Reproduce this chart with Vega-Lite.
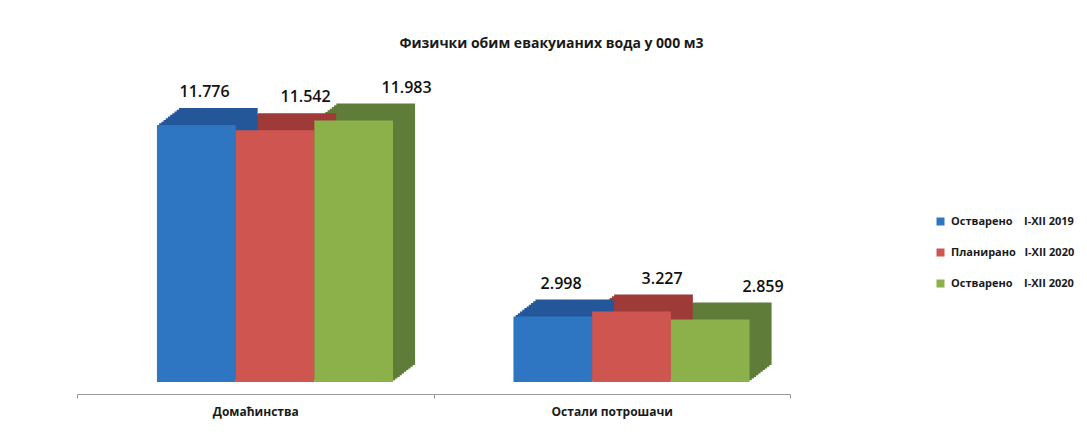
{
  "$schema": "https://vega.github.io/schema/vega-lite/v6.json",
  "width": 713,
  "height": 312,
  "autosize": {"type": "none"},
  "padding": {"left": 77, "top": 70, "right": 297, "bottom": 53},
  "background": "white",
  "title": {
    "text": "Физички обим евакуианих вода у 000 м3",
    "font": "Open Sans",
    "fontSize": 14,
    "fontWeight": "bold",
    "color": "#1a1a1a",
    "anchor": "middle",
    "dx": 118,
    "offset": 19
  },
  "data": {
    "values": [
      {"category": "Домаћинства", "series": "Остварено\u00a0\u00a0\u00a0\u00a0I-XII 2019", "value": 11776},
      {"category": "Домаћинства", "series": "Планирано\u00a0\u00a0\u00a0I-XII 2020", "value": 11542},
      {"category": "Домаћинства", "series": "Остварено\u00a0\u00a0\u00a0\u00a0I-XII 2020", "value": 11983},
      {"category": "Остали потрошачи", "series": "Остварено\u00a0\u00a0\u00a0\u00a0I-XII 2019", "value": 2998},
      {"category": "Остали потрошачи", "series": "Планирано\u00a0\u00a0\u00a0I-XII 2020", "value": 3227},
      {"category": "Остали потрошачи", "series": "Остварено\u00a0\u00a0\u00a0\u00a0I-XII 2020", "value": 2859}
    ]
  },
  "encoding": {
    "x": {
      "field": "category",
      "type": "nominal",
      "sort": ["Домаћинства", "Остали потрошачи"],
      "scale": {"paddingInner": 0, "paddingOuter": 0},
      "axis": {
        "title": null,
        "labelAngle": 0,
        "labelFont": "Open Sans",
        "labelFontSize": 12,
        "labelFontWeight": "bold",
        "labelColor": "#1a1a1a",
        "domainColor": "#9a9a9a",
        "tickColor": "#9a9a9a",
        "tickBand": "extent",
        "tickSize": 4,
        "offset": 12,
        "labelPadding": 8
      }
    },
    "y": {
      "field": "value",
      "type": "quantitative",
      "scale": {"domain": [0, 14300]},
      "axis": null
    }
  },
  "layer": [
    {"mark": {"type": "bar", "yOffset": -1.7}, "encoding": {
      "xOffset": {"field": "series", "type": "nominal", "sort": ["Остварено\u00a0\u00a0\u00a0\u00a0I-XII 2019", "Планирано\u00a0\u00a0\u00a0I-XII 2020", "Остварено\u00a0\u00a0\u00a0\u00a0I-XII 2020"], "scale": {"paddingInner": 0, "paddingOuter": 0.765, "align": 0.682}},
      "color": {"field": "series", "type": "nominal", "sort": ["Остварено\u00a0\u00a0\u00a0\u00a0I-XII 2019", "Планирано\u00a0\u00a0\u00a0I-XII 2020", "Остварено\u00a0\u00a0\u00a0\u00a0I-XII 2020"], "scale": {"range": ["#24579a", "#9e3a37", "#5f7d38"]}, "legend": null}}},
    {"mark": {"type": "bar", "yOffset": -3.4}, "encoding": {
      "xOffset": {"field": "series", "type": "nominal", "sort": ["Остварено\u00a0\u00a0\u00a0\u00a0I-XII 2019", "Планирано\u00a0\u00a0\u00a0I-XII 2020", "Остварено\u00a0\u00a0\u00a0\u00a0I-XII 2020"], "scale": {"paddingInner": 0, "paddingOuter": 0.765, "align": 0.701}},
      "color": {"field": "series", "type": "nominal", "sort": ["Остварено\u00a0\u00a0\u00a0\u00a0I-XII 2019", "Планирано\u00a0\u00a0\u00a0I-XII 2020", "Остварено\u00a0\u00a0\u00a0\u00a0I-XII 2020"], "scale": {"range": ["#24579a", "#9e3a37", "#5f7d38"]}, "legend": null}}},
    {"mark": {"type": "bar", "yOffset": -5.1}, "encoding": {
      "xOffset": {"field": "series", "type": "nominal", "sort": ["Остварено\u00a0\u00a0\u00a0\u00a0I-XII 2019", "Планирано\u00a0\u00a0\u00a0I-XII 2020", "Остварено\u00a0\u00a0\u00a0\u00a0I-XII 2020"], "scale": {"paddingInner": 0, "paddingOuter": 0.765, "align": 0.719}},
      "color": {"field": "series", "type": "nominal", "sort": ["Остварено\u00a0\u00a0\u00a0\u00a0I-XII 2019", "Планирано\u00a0\u00a0\u00a0I-XII 2020", "Остварено\u00a0\u00a0\u00a0\u00a0I-XII 2020"], "scale": {"range": ["#24579a", "#9e3a37", "#5f7d38"]}, "legend": null}}},
    {"mark": {"type": "bar", "yOffset": -6.8}, "encoding": {
      "xOffset": {"field": "series", "type": "nominal", "sort": ["Остварено\u00a0\u00a0\u00a0\u00a0I-XII 2019", "Планирано\u00a0\u00a0\u00a0I-XII 2020", "Остварено\u00a0\u00a0\u00a0\u00a0I-XII 2020"], "scale": {"paddingInner": 0, "paddingOuter": 0.765, "align": 0.737}},
      "color": {"field": "series", "type": "nominal", "sort": ["Остварено\u00a0\u00a0\u00a0\u00a0I-XII 2019", "Планирано\u00a0\u00a0\u00a0I-XII 2020", "Остварено\u00a0\u00a0\u00a0\u00a0I-XII 2020"], "scale": {"range": ["#24579a", "#9e3a37", "#5f7d38"]}, "legend": null}}},
    {"mark": {"type": "bar", "yOffset": -8.5}, "encoding": {
      "xOffset": {"field": "series", "type": "nominal", "sort": ["Остварено\u00a0\u00a0\u00a0\u00a0I-XII 2019", "Планирано\u00a0\u00a0\u00a0I-XII 2020", "Остварено\u00a0\u00a0\u00a0\u00a0I-XII 2020"], "scale": {"paddingInner": 0, "paddingOuter": 0.765, "align": 0.755}},
      "color": {"field": "series", "type": "nominal", "sort": ["Остварено\u00a0\u00a0\u00a0\u00a0I-XII 2019", "Планирано\u00a0\u00a0\u00a0I-XII 2020", "Остварено\u00a0\u00a0\u00a0\u00a0I-XII 2020"], "scale": {"range": ["#24579a", "#9e3a37", "#5f7d38"]}, "legend": null}}},
    {"mark": {"type": "bar", "yOffset": -10.2}, "encoding": {
      "xOffset": {"field": "series", "type": "nominal", "sort": ["Остварено\u00a0\u00a0\u00a0\u00a0I-XII 2019", "Планирано\u00a0\u00a0\u00a0I-XII 2020", "Остварено\u00a0\u00a0\u00a0\u00a0I-XII 2020"], "scale": {"paddingInner": 0, "paddingOuter": 0.765, "align": 0.774}},
      "color": {"field": "series", "type": "nominal", "sort": ["Остварено\u00a0\u00a0\u00a0\u00a0I-XII 2019", "Планирано\u00a0\u00a0\u00a0I-XII 2020", "Остварено\u00a0\u00a0\u00a0\u00a0I-XII 2020"], "scale": {"range": ["#24579a", "#9e3a37", "#5f7d38"]}, "legend": null}}},
    {"mark": {"type": "bar", "yOffset": -11.9}, "encoding": {
      "xOffset": {"field": "series", "type": "nominal", "sort": ["Остварено\u00a0\u00a0\u00a0\u00a0I-XII 2019", "Планирано\u00a0\u00a0\u00a0I-XII 2020", "Остварено\u00a0\u00a0\u00a0\u00a0I-XII 2020"], "scale": {"paddingInner": 0, "paddingOuter": 0.765, "align": 0.792}},
      "color": {"field": "series", "type": "nominal", "sort": ["Остварено\u00a0\u00a0\u00a0\u00a0I-XII 2019", "Планирано\u00a0\u00a0\u00a0I-XII 2020", "Остварено\u00a0\u00a0\u00a0\u00a0I-XII 2020"], "scale": {"range": ["#24579a", "#9e3a37", "#5f7d38"]}, "legend": null}}},
    {"mark": {"type": "bar", "yOffset": -13.6}, "encoding": {
      "xOffset": {"field": "series", "type": "nominal", "sort": ["Остварено\u00a0\u00a0\u00a0\u00a0I-XII 2019", "Планирано\u00a0\u00a0\u00a0I-XII 2020", "Остварено\u00a0\u00a0\u00a0\u00a0I-XII 2020"], "scale": {"paddingInner": 0, "paddingOuter": 0.765, "align": 0.81}},
      "color": {"field": "series", "type": "nominal", "sort": ["Остварено\u00a0\u00a0\u00a0\u00a0I-XII 2019", "Планирано\u00a0\u00a0\u00a0I-XII 2020", "Остварено\u00a0\u00a0\u00a0\u00a0I-XII 2020"], "scale": {"range": ["#24579a", "#9e3a37", "#5f7d38"]}, "legend": null}}},
    {"mark": {"type": "bar", "yOffset": -15.3}, "encoding": {
      "xOffset": {"field": "series", "type": "nominal", "sort": ["Остварено\u00a0\u00a0\u00a0\u00a0I-XII 2019", "Планирано\u00a0\u00a0\u00a0I-XII 2020", "Остварено\u00a0\u00a0\u00a0\u00a0I-XII 2020"], "scale": {"paddingInner": 0, "paddingOuter": 0.765, "align": 0.828}},
      "color": {"field": "series", "type": "nominal", "sort": ["Остварено\u00a0\u00a0\u00a0\u00a0I-XII 2019", "Планирано\u00a0\u00a0\u00a0I-XII 2020", "Остварено\u00a0\u00a0\u00a0\u00a0I-XII 2020"], "scale": {"range": ["#24579a", "#9e3a37", "#5f7d38"]}, "legend": null}}},
    {"mark": {"type": "bar", "yOffset": -17}, "encoding": {
      "xOffset": {"field": "series", "type": "nominal", "sort": ["Остварено\u00a0\u00a0\u00a0\u00a0I-XII 2019", "Планирано\u00a0\u00a0\u00a0I-XII 2020", "Остварено\u00a0\u00a0\u00a0\u00a0I-XII 2020"], "scale": {"paddingInner": 0, "paddingOuter": 0.765, "align": 0.847}},
      "color": {"field": "series", "type": "nominal", "sort": ["Остварено\u00a0\u00a0\u00a0\u00a0I-XII 2019", "Планирано\u00a0\u00a0\u00a0I-XII 2020", "Остварено\u00a0\u00a0\u00a0\u00a0I-XII 2020"], "scale": {"range": ["#24579a", "#9e3a37", "#5f7d38"]}, "legend": null}}},
    {
      "mark": {"type": "bar"},
      "encoding": {
        "xOffset": {"field": "series", "type": "nominal", "sort": ["Остварено\u00a0\u00a0\u00a0\u00a0I-XII 2019", "Планирано\u00a0\u00a0\u00a0I-XII 2020", "Остварено\u00a0\u00a0\u00a0\u00a0I-XII 2020"], "scale": {"paddingInner": 0, "paddingOuter": 0.765, "align": 0.664}},
        "color": {
          "field": "series",
          "type": "nominal",
          "sort": ["Остварено\u00a0\u00a0\u00a0\u00a0I-XII 2019", "Планирано\u00a0\u00a0\u00a0I-XII 2020", "Остварено\u00a0\u00a0\u00a0\u00a0I-XII 2020"],
          "scale": {"range": ["#2f76c2", "#cf5550", "#8cb14b"]},
          "legend": {
            "title": null,
            "orient": "none",
            "legendX": 858,
            "legendY": 146,
            "symbolType": "square",
            "symbolSize": 64,
            "symbolStrokeWidth": 0,
            "labelFont": "Open Sans",
            "labelFontSize": 11,
            "labelFontWeight": "bold",
            "labelColor": "#1a1a1a",
            "labelOffset": 5,
            "rowPadding": 19,
            "labelLimit": 300
          }
        }
      }
    },
    {
      "mark": {"type": "text", "dx": 25, "dy": -33, "align": "center", "baseline": "middle", "font": "Open Sans", "fontSize": 16, "fontWeight": 600, "color": "#111111"},
      "encoding": {
        "xOffset": {"field": "series", "type": "nominal", "sort": ["Остварено\u00a0\u00a0\u00a0\u00a0I-XII 2019", "Планирано\u00a0\u00a0\u00a0I-XII 2020", "Остварено\u00a0\u00a0\u00a0\u00a0I-XII 2020"], "scale": {"paddingInner": 0, "paddingOuter": 0.765, "align": 0.664}},
        "text": {"field": "value", "type": "quantitative", "format": ",d"}
      }
    }
  ],
  "resolve": {"scale": {"color": "independent", "xOffset": "independent"}},
  "config": {
    "view": {"stroke": null},
    "locale": {"number": {"decimal": ",", "thousands": ".", "grouping": [3], "currency": ["", ""]}}
  }
}
